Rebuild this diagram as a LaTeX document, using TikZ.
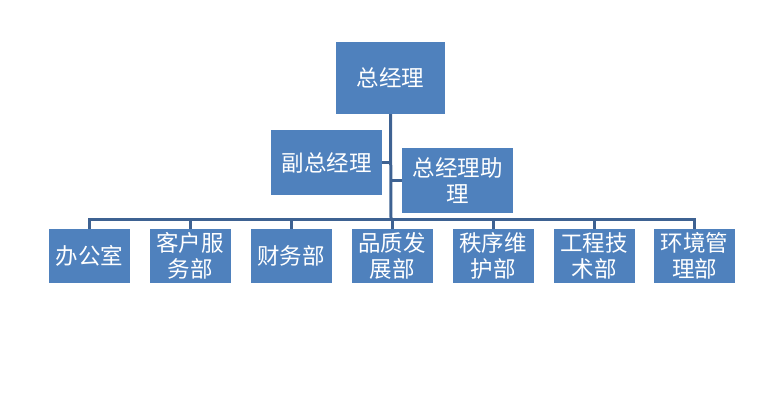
\documentclass[tikz,border=0pt]{standalone}
\usepackage{fontspec}
\newfontfamily\cjk{Noto Sans CJK SC}
\usepackage{tikz}
\usetikzlibrary{positioning}
\definecolor{boxblue}{RGB}{79,129,189}
\definecolor{lineblue}{RGB}{62,98,146}
\tikzstyle{orgbox} = [fill=boxblue, text=white, inner sep=0pt, align=center, font=\cjk\fontsize{22.5}{26}\selectfont]
\tikzstyle{dept} = [orgbox, minimum width=81pt, minimum height=54pt]
\tikzstyle{link} = [draw=lineblue, line width=3pt]

\begin{document}
\begin{tikzpicture}[x=1pt,y=-1pt]
\useasboundingbox (0,0) rectangle (783,406);
\node[orgbox, minimum width=109pt, minimum height=72pt] (gm) at (390.5,78) {总经理};
\node[orgbox, minimum width=111pt, minimum height=65pt] (vicegm) at (326.5,162.5) {副总经理};
\node[orgbox, minimum width=111pt, minimum height=65pt] (assistant) at (457.5,180.5) {总经理助\\理};

\node[dept] (office) at (89.5,256) {办公室};
\node[dept] (service) at (190,256) {客户服\\务部};
\node[dept] (finance) at (291,256) {财务部};
\node[dept] (quality) at (392,256) {品质发\\展部};
\node[dept] (order) at (493,256) {秩序维\\护部};
\node[dept] (engineering) at (594,256) {工程技\\术部};
\node[dept] (environment) at (694.5,256) {环境管\\理部};

\coordinate (bus) at (391,219);
\draw[link] (gm.south) -- (bus);
\draw[link] (vicegm.east) -- (vicegm.east -| bus);
\draw[link] (assistant.west) -- (assistant.west -| bus);
\foreach \d in {office,service,finance,quality,order,engineering,environment}
  \draw[link] (bus) -| (\d.north);
\end{tikzpicture}
\end{document}
